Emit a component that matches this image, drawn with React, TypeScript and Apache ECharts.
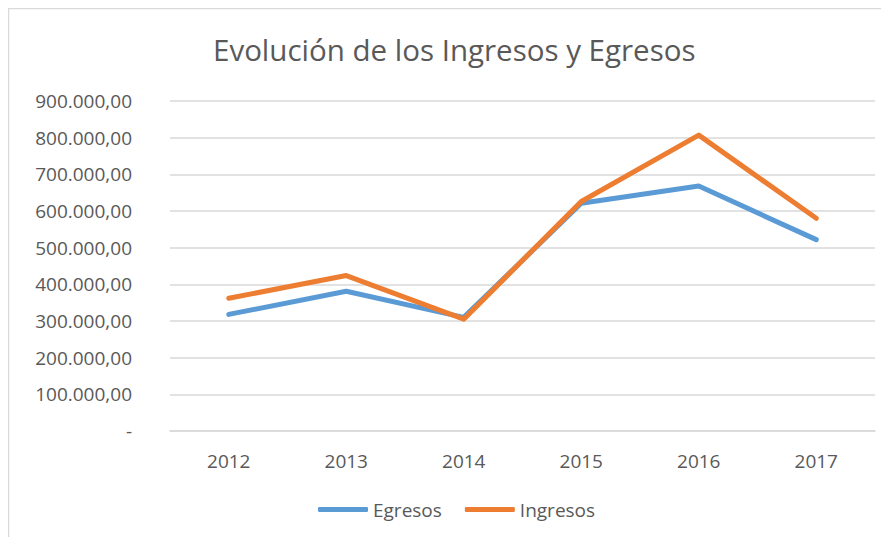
import React, { useEffect, useRef } from "react";
import * as echarts from "echarts";

const categories = ["2012", "2013", "2014", "2015", "2016", "2017"];
const egresos = [318000, 381000, 310000, 621000, 668000, 522000];
const ingresos = [362000, 424000, 305000, 626000, 807000, 580000];
const titleText = "Evolución de los Ingresos y Egresos";
const seriesNames = ["Egresos", "Ingresos"];

const FONT = "'Open Sans', Lato, sans-serif";

function fmt(v: number): string {
  if (v === 0) return "-";
  const s = Math.round(v).toString().replace(/\B(?=(\d{3})+(?!\d))/g, ".");
  return s + ",00";
}

export default function App() {
  const ref = useRef<HTMLDivElement>(null);
  useEffect(() => {
    if (!ref.current) return;
    const chart = echarts.init(ref.current, undefined, { renderer: "svg" });
    chart.setOption({
      animation: false,
      backgroundColor: "#ffffff",
      title: {
        text: titleText,
        left: 200,
        top: 21,
        textStyle: { fontFamily: FONT, fontSize: 29.5, fontWeight: "normal", color: "#595959" },
      },
      graphic: [
        {
          type: "rect",
          shape: { x: 0.5, y: 0.5, width: 1000, height: 1000 },
          style: { fill: "none", stroke: "#d9d9d9", lineWidth: 1.5 },
          silent: true,
          z: 100,
        },
      ],
      legend: {
        bottom: 13,
        left: 305,
        itemWidth: 50,
        itemHeight: 5,
        itemGap: 23,
        icon: "roundRect",
        textStyle: { fontFamily: FONT, fontSize: 19, color: "#595959" },
        data: seriesNames,
      },
      grid: { left: 162, right: 14, top: 93, bottom: 106 },
      xAxis: {
        type: "category",
        data: categories,
        boundaryGap: true,
        axisLine: { show: true, lineStyle: { color: "#d9d9d9", width: 1.5 } },
        axisTick: { show: false },
        axisLabel: { fontFamily: FONT, fontSize: 19, color: "#595959", margin: 20 },
      },
      yAxis: {
        type: "value",
        min: 0,
        max: 900000,
        interval: 100000,
        axisLine: { show: false },
        axisTick: { show: false },
        splitLine: { lineStyle: { color: "#d9d9d9", width: 1.5 } },
        axisLabel: {
          fontFamily: FONT,
          fontSize: 19,
          color: "#595959",
          margin: 38,
          formatter: (v: number) => fmt(v),
        },
      },
      series: [
        {
          name: seriesNames[0],
          type: "line",
          data: egresos,
          symbol: "none",
          lineStyle: { color: "#5B9BD5", width: 5, cap: "round", join: "round" },
          itemStyle: { color: "#5B9BD5" },
        },
        {
          name: seriesNames[1],
          type: "line",
          data: ingresos,
          symbol: "none",
          lineStyle: { color: "#ED7D31", width: 5, cap: "round", join: "round" },
          itemStyle: { color: "#ED7D31" },
        },
      ],
    });
    return () => chart.dispose();
  }, []);
  return <div ref={ref} style={{ width: 881, height: 529 }} />;
}
